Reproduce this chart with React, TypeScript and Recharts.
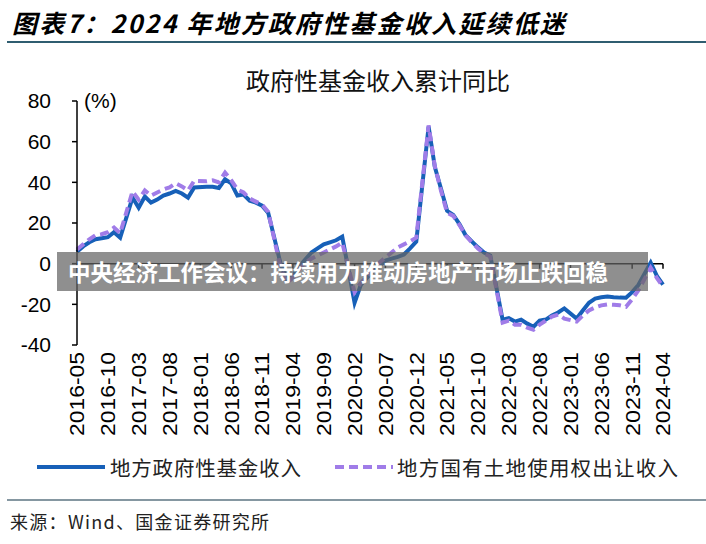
import { LineChart, Line, XAxis, YAxis, ReferenceLine } from 'recharts';

// monthly, 2016-05 .. 2024-04 (January has no own figure, Jan-Feb are reported together)
const months: string[] = [];
for (let y = 2016; y <= 2024; y++) {
  for (let m = 1; m <= 12; m++) {
    if ((y === 2016 && m < 5) || (y === 2024 && m > 4)) continue;
    months.push(`${y}-${String(m).padStart(2, '0')}`);
  }
}

// 地方政府性基金收入 累计同比 (%)
const fundYoY: (number | null)[] = [
  5.9, 8.5, 10.5, 12, 12.5, 13, 15.5, 12.8,
  null, 32.5, 27.5, 33, 30, 31.5, 33.5, 34.5, 35.8, 34.5, 32.5, 37.5,
  null, 37.8, 37.8, 37.2, 41.5, 39.5, 33.5, 34, 31, 30, 28.5, 25,
  null, 0, -7.5, -6, -1.5, 2, 5.5, 7.5, 9.5, 10.5, 11.5, 13.3,
  null, -19.2, -10.5, -7, -4, -1, 1.5, 2.5, 3.3, 4.5, 7.5, 10.8,
  null, 67.4, 47.7, 37, 26, 24, 19.5, 14, 11, 8, 5.5, 4,
  null, -27.6, -26.8, -28.5, -27.5, -29.5, -31, -28, -27.5, -25.5, -24, -22,
  null, -27, -23, -19.2, -17.2, -16.5, -16.2, -16.5, -16.7, -16.8, -14, -10.5,
  null, 0.5, -6, -10.3,
];

// 地方国有土地使用权出让收入 累计同比 (%)
const landYoY: (number | null)[] = [
  7, 9.5, 12, 14, 14.5, 15.5, 17.7, 15,
  null, 35.5, 31.5, 36, 33.5, 35, 36.5, 37.5, 39.5, 38, 36, 40.8,
  null, 40.5, 41, 40, 44.8, 41, 36.5, 35, 32, 30.5, 29, 25.5,
  null, -2, -9.4, -7, -3, 0.5, 2.5, 4, 5.5, 7, 8.5, 10.3,
  null, -14, -9.5, -6.4, -2.5, 0.5, 3, 5.5, 8, 9.5, 11, 12.8,
  null, 68, 48, 36, 25, 23.5, 19, 14, 10.5, 7.5, 5, 3.5,
  null, -29, -28, -30, -30, -31.5, -32.5, -30, -28, -26, -25, -27,
  null, -28.5, -25.5, -23, -21.5, -20.5, -20, -20.2, -20.5, -21.2, -17.5, -13.2,
  null, -2, -7, -11.3,
];

const yTicks = [-40, -20, 0, 20, 40, 60, 80];

const data = months.map((m, i) => ({ month: m, fund: fundYoY[i], land: landYoY[i] }));
const labelMonths = months.filter((_, i) => i % 5 === 0);

const BLUE = '#1760b8';
const PURPLE = '#a07ce8';
const NUM_FONT = '"Liberation Sans", Arial, sans-serif';
const CJK_FONT = '"Noto Sans CJK SC", sans-serif';

function MonthTick(props: any) {
  const { x, y, payload } = props;
  return (
    <g transform={`translate(${x},${y + 7})`}>
      <text
        transform="rotate(-90)"
        textAnchor="end"
        dy="0.35em"
        fontSize={21}
        fontFamily={NUM_FONT}
        textLength={84}
        lengthAdjust="spacingAndGlyphs"
        fill="#000"
      >
        {payload.value}
      </text>
    </g>
  );
}

export default function App() {
  return (
    <div
      style={{
        position: 'absolute',
        left: 0,
        top: 0,
        width: 706,
        height: 544,
        background: '#fff',
        overflow: 'hidden',
        fontFamily: CJK_FONT,
      }}
    >
      {/* header */}
      <div
        style={{
          position: 'absolute',
          left: 12,
          top: 5,
          fontSize: 25,
          fontWeight: 700,
          fontStyle: 'italic',
          letterSpacing: 2.2,
          lineHeight: '34px',
          color: '#000',
        }}
      >
        图表7：2024 年地方政府性基金收入延续低迷
      </div>
      <div style={{ position: 'absolute', left: 7, top: 41, width: 699, height: 2, background: '#2f5d70' }} />

      {/* chart title */}
      <div
        style={{
          position: 'absolute',
          left: 0,
          width: 756,
          top: 64,
          textAlign: 'center',
          fontSize: 24,
          lineHeight: '32px',
          color: '#111',
        }}
      >
        政府性基金收入累计同比
      </div>
      <div
        style={{
          position: 'absolute',
          left: 84,
          top: 88,
          fontSize: 21,
          fontFamily: NUM_FONT,
          lineHeight: '26px',
          color: '#000',
        }}
      >
        (%)
      </div>

      <div style={{ position: 'absolute', left: 0, top: 0 }}>
        <LineChart width={706} height={450} data={data} margin={{ top: 101, right: 43, bottom: 10, left: 17 }}>
          <XAxis
            dataKey="month"
            interval={4}
            axisLine={false}
            tickLine={false}
            tickSize={0}
            tickMargin={0}
            height={95}
            tick={<MonthTick />}
          />
          <YAxis
            domain={[-40, 80]}
            ticks={yTicks}
            width={60}
            axisLine={{ stroke: '#000', strokeWidth: 1.5 }}
            tickLine={{ stroke: '#000', strokeWidth: 1.5 }}
            tickSize={5}
            tickMargin={21}
            tick={{ fill: '#000', fontSize: 21, fontFamily: NUM_FONT }}
          />
          <ReferenceLine y={0} stroke="#000" strokeWidth={1.5} />
          {labelMonths.map((m) => (
            <ReferenceLine
              key={m}
              segment={[
                { x: m, y: 0 },
                { x: m, y: -2.5 },
              ]}
              stroke="#000"
              strokeWidth={1.5}
            />
          ))}
          <Line
            type="linear"
            dataKey="fund"
            stroke={BLUE}
            strokeWidth={4}
            dot={false}
            connectNulls
            isAnimationActive={false}
          />
          <Line
            type="linear"
            dataKey="land"
            stroke={PURPLE}
            strokeWidth={4}
            strokeDasharray="9 5"
            dot={false}
            connectNulls
            isAnimationActive={false}
          />
        </LineChart>
      </div>

      {/* overlay banner */}
      <div
        style={{
          position: 'absolute',
          left: 57,
          top: 252,
          width: 591,
          height: 39,
          background: 'rgba(100,100,100,0.72)',
          color: '#fff',
          fontWeight: 700,
          fontSize: 22.5,
          lineHeight: '39px',
          paddingLeft: 11,
          boxSizing: 'border-box',
          whiteSpace: 'nowrap',
        }}
      >
        中央经济工作会议：持续用力推动房地产市场止跌回稳
      </div>

      {/* legend */}
      <svg style={{ position: 'absolute', left: 0, top: 455 }} width={706} height={26}>
        <line x1={37} x2={105} y1={12} y2={12} stroke={BLUE} strokeWidth={4} />
        <line x1={335} x2={393} y1={12} y2={12} stroke={PURPLE} strokeWidth={4} strokeDasharray="9 5" />
      </svg>
      <div
        style={{ position: 'absolute', left: 110, top: 453, fontSize: 20.5, letterSpacing: 0.8, lineHeight: '28px', color: '#222' }}
      >
        地方政府性基金收入
      </div>
      <div
        style={{ position: 'absolute', left: 397, top: 453, fontSize: 20.5, letterSpacing: 1.2, lineHeight: '28px', color: '#222' }}
      >
        地方国有土地使用权出让收入
      </div>

      {/* footer */}
      <div style={{ position: 'absolute', left: 7, top: 499, width: 699, height: 2, background: '#8597a1' }} />
      <div
        style={{ position: 'absolute', left: 10, top: 508, fontSize: 18, lineHeight: '26px', letterSpacing: 1.3, color: '#222' }}
      >
        来源：Wind、国金证券研究所
      </div>
    </div>
  );
}
